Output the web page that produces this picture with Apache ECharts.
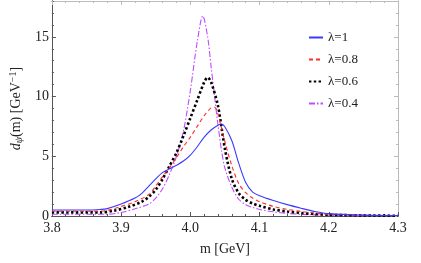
<!DOCTYPE html>
<html><head><meta charset="utf-8">
<script src="https://cdn.jsdelivr.net/npm/echarts@6/dist/echarts.min.js"></script>
<style>html,body{margin:0;padding:0;background:#fff}#c{width:421px;height:263px}</style>
</head><body><div id="c"></div>
<script>
const seriesNames = ['λ=1', 'λ=0.8', 'λ=0.6', 'λ=0.4'];
const xTicks = [3.8, 3.9, 4.0, 4.1, 4.2, 4.3];
const yTicks = [0, 5, 10, 15];
// [m, value] samples
const lam1 = [[3.80,0.5],[3.85,0.5],[3.87,0.55],[3.88,0.62],[3.90,1.0],[3.92,1.5],[3.93,1.9],[3.94,2.5],[3.95,3.1],[3.96,3.65],[3.97,3.95],[3.98,4.25],[3.99,4.6],[4.00,5.1],[4.01,5.8],[4.02,6.6],[4.03,7.2],[4.04,7.6],[4.045,7.7],[4.05,7.45],[4.06,6.3],[4.07,4.4],[4.08,2.8],[4.09,2.0],[4.10,1.7],[4.12,1.3],[4.14,0.95],[4.16,0.65],[4.18,0.38],[4.20,0.2],[4.25,0.07],[4.30,0.03]];
const lam08 = [[3.80,0.4],[3.86,0.4],[3.88,0.47],[3.90,0.8],[3.92,1.2],[3.94,1.8],[3.95,2.5],[3.96,3.3],[3.97,4.05],[3.98,4.9],[3.99,5.8],[4.00,6.6],[4.01,7.5],[4.02,8.4],[4.03,9.05],[4.035,9.1],[4.04,8.5],[4.05,6.2],[4.06,4.2],[4.07,2.7],[4.08,1.95],[4.09,1.5],[4.10,1.2],[4.12,0.8],[4.14,0.55],[4.16,0.38],[4.18,0.25],[4.20,0.15],[4.25,0.06],[4.30,0.03]];
const lam06 = [[3.80,0.3],[3.87,0.3],[3.89,0.45],[3.91,0.75],[3.93,1.2],[3.94,1.6],[3.95,2.2],[3.96,3.1],[3.97,4.2],[3.98,5.3],[3.99,6.7],[4.00,8.2],[4.01,9.7],[4.02,11.2],[4.025,11.6],[4.03,11.2],[4.04,9.2],[4.05,5.6],[4.06,3.1],[4.07,1.9],[4.08,1.35],[4.09,1.05],[4.10,0.85],[4.12,0.55],[4.14,0.38],[4.16,0.25],[4.18,0.16],[4.20,0.1],[4.25,0.05],[4.30,0.02]];
const lam04 = [[3.80,0.15],[3.88,0.15],[3.90,0.3],[3.92,0.6],[3.94,1.0],[3.95,1.5],[3.96,2.3],[3.97,3.5],[3.98,5.0],[3.99,7.1],[4.00,10.5],[4.01,14.6],[4.018,16.75],[4.025,15.0],[4.03,12.5],[4.035,10.0],[4.04,7.6],[4.045,5.5],[4.05,4.0],[4.06,2.4],[4.07,1.4],[4.08,0.95],[4.09,0.72],[4.10,0.55],[4.12,0.35],[4.14,0.22],[4.16,0.14],[4.20,0.06],[4.30,0.02]];

const serif = 'Liberation Serif';
const chart = echarts.init(document.getElementById('c'), null, {renderer:'canvas'});
const dark = '#555', light = '#bbb';
function xAx(pos, major, color, show) {
  return {type:'value', min:3.8, max:4.3, interval: major ? 0.1 : 0.02, position:pos,
    axisLine:{show:true, onZero:false, lineStyle:{color:color, width:1}},
    axisTick:{show:true, inside:true, length: major ? 4 : 2, lineStyle:{color:color}},
    axisLabel:{show:show, color:'#222', fontFamily:serif, fontSize:14, margin:5,
      formatter:v=>xTicks.find(t=>Math.abs(t-v)<1e-6)!==undefined ? v.toFixed(1) : ''},
    splitLine:{show:false}};
}
function yAx(pos, major, color, show) {
  return {type:'value', min:0, max:18, interval: major ? 5 : 1, position:pos,
    axisLine:{show:true, onZero:false, lineStyle:{color:color, width:1}},
    axisTick:{show:true, inside:true, length: major ? 4 : 2, lineStyle:{color:color}},
    axisLabel:{show:show, color:'#222', fontFamily:serif, fontSize:14, margin:3, showMaxLabel:false,
      formatter:v=>yTicks.includes(v) ? String(v) : ''},
    splitLine:{show:false}};
}
const xAxes = [xAx('bottom', true, dark, true), xAx('bottom', false, dark, false), xAx('top', true, light, false), xAx('top', false, light, false)];
xAxes[0].name = 'm [GeV]';
xAxes[0].nameLocation = 'middle';
xAxes[0].nameGap = 26;
xAxes[0].nameTextStyle = {fontFamily:serif, fontSize:14, color:'#222'};
const yAxes = [yAx('left', true, dark, true), yAx('left', false, dark, false), yAx('right', true, light, false), yAx('right', false, light, false)];
yAxes[0].name = '{i|d}{sub|ψ}{n|(m) [GeV}{sup|−1}{n|]}';
yAxes[0].nameLocation = 'middle';
yAxes[0].nameGap = 20;
yAxes[0].nameRotate = 90;
yAxes[0].nameTextStyle = {fontFamily:serif, fontSize:14, color:'#222', rich:{
  i:{fontFamily:serif, fontStyle:'italic', fontSize:14},
  sub:{fontFamily:serif, fontStyle:'italic', fontSize:10, verticalAlign:'bottom', padding:[6,0,0,0]},
  n:{fontFamily:serif, fontSize:14},
  sup:{fontFamily:serif, fontSize:10, verticalAlign:'top', padding:[0,0,6,0]}}};

const styles = [
  {color:'#3a3aff', width:1.1, type:'solid'},
  {color:'#ff2a2a', width:1.1, type:[4,3]},
  {color:'#000000', width:2.6, type:[2.4,2.4]},
  {color:'#c04cff', width:1.1, type:[6,2,1.5,2]}
];
const datas = [lam1, lam08, lam06, lam04];
chart.setOption({
  animation:false,
  grid:{left:48, right:23, top:1, bottom:47},
  xAxis:xAxes,
  yAxis:yAxes,
  legend:{orient:'vertical', left:303, top:26, itemWidth:14, itemHeight:10, itemGap:9,
    itemStyle:{color:'transparent', borderWidth:0, opacity:0},
    textStyle:{fontFamily:serif, fontSize:13, color:'#222'}, data:seriesNames},
  series: seriesNames.map((n,i)=>({name:n, type:'line', data:datas[i], showSymbol:false, symbol:'none',
    smooth:0.3, lineStyle:styles[i], itemStyle:{color:styles[i].color}, z: 10-i}))
});
</script></body></html>
